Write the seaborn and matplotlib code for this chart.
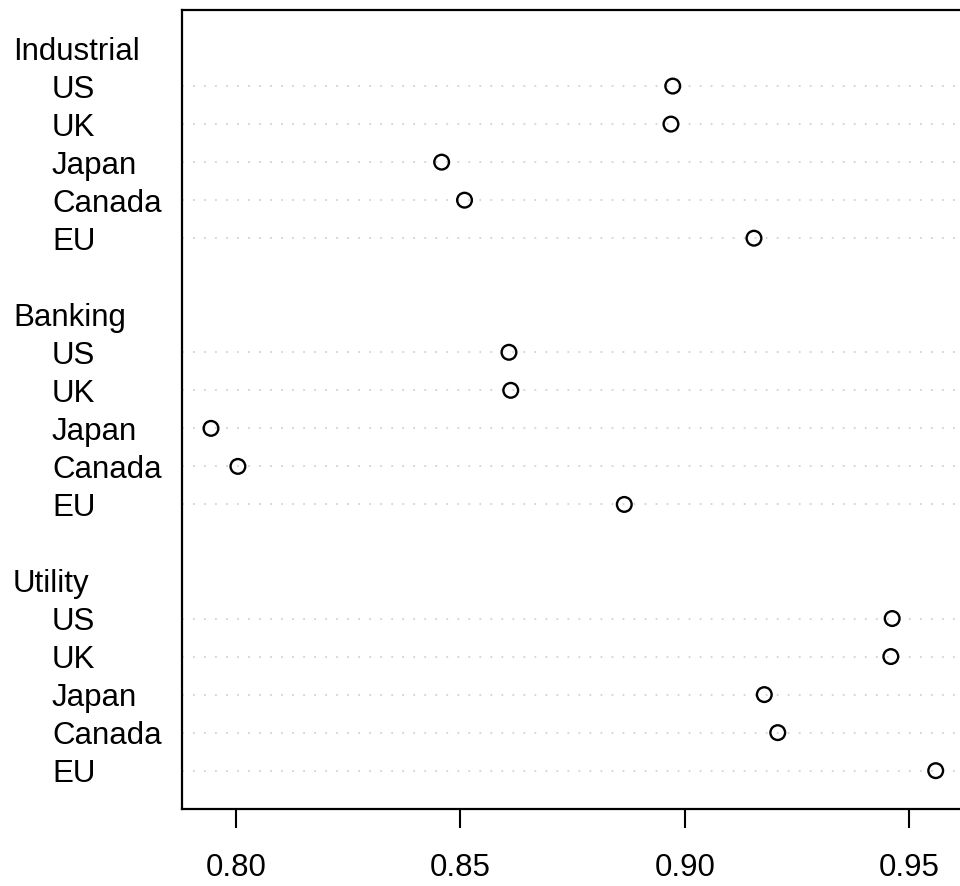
import numpy as np
import pandas as pd
import matplotlib
matplotlib.use("Agg")
import matplotlib.pyplot as plt
import matplotlib.transforms as mtransforms
import seaborn as sns

# datos
groups = ["Industrial", "Banking", "Utility"]
countries = ["US", "UK", "Japan", "Canada", "EU"]
industrial = [0.8973, 0.8969, 0.8458, 0.8509, 0.9154]
banking = [0.8608, 0.8612, 0.7944, 0.8004, 0.8865]
utility = [0.9462, 0.9459, 0.9177, 0.9207, 0.9559]
xticks = [0.80, 0.85, 0.90, 0.95]

plt.rcParams["font.family"] = ["Liberation Sans", "DejaVu Sans"]

# posiciones de filas al estilo dotchart de R (de abajo hacia arriba)
values = [industrial, banking, utility]
n_items = len(countries)
rows = []
header_rows = {}
y = 0
for g in reversed(range(len(groups))):
    for c in reversed(range(n_items)):
        y += 1
        rows.append({"group": groups[g], "country": countries[c],
                     "value": values[g][c], "row": y})
    y += 1
    header_rows[groups[g]] = y
    y += 1
df = pd.DataFrame(rows)
ymax = y  # n + 1

fig = plt.figure(figsize=(9.6, 8.86), dpi=100)
ax = fig.add_axes([182 / 960, 77.3 / 886, (964.7 - 182) / 960, (876 - 77.3) / 886])

# lineas punteadas de referencia
for r in df["row"]:
    ax.axhline(r, color="#d3d3d3", lw=1.3, linestyle=(0, (1, 5.1)), zorder=1)

sns.scatterplot(data=df, x="value", y="row", ax=ax, marker="o", s=112,
                facecolor="none", edgecolor="black", linewidth=1.7, zorder=3)

vmin, vmax = df["value"].min(), df["value"].max()
pad = 0.04 * (vmax - vmin)
ax.set_xlim(vmin - pad, vmax + pad)
ax.set_ylim(0, ymax)

ax.set_xticks(xticks)
ax.set_xticklabels([f"{t:.2f}" for t in xticks])
ax.set_yticks([])
ax.tick_params(axis="x", length=13.7, width=1.5, pad=18.5, labelsize=22.5)
ax.set_xlabel("")
ax.set_ylabel("")
for sp in ax.spines.values():
    sp.set_linewidth(1.6)

# etiquetas a la izquierda
trans = mtransforms.blended_transform_factory(fig.transFigure, ax.transData)
for g in groups:
    ax.text(13 / 960, header_rows[g], g, transform=trans, ha="left",
            va="center_baseline", fontsize=22.5, clip_on=False)
for _, rr in df.iterrows():
    ax.text(52 / 960, rr["row"], rr["country"], transform=trans, ha="left",
            va="center_baseline", fontsize=22.5, clip_on=False)

fig.savefig("out.png", dpi=100)
